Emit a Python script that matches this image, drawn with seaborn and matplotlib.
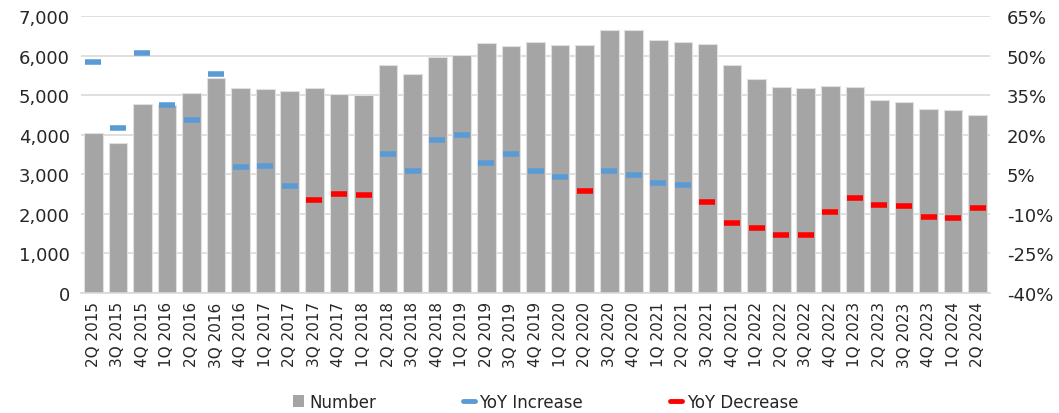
import numpy as np
import pandas as pd
import matplotlib
matplotlib.use("Agg")
import matplotlib.pyplot as plt
from matplotlib.lines import Line2D
from matplotlib.patches import Patch
from matplotlib.ticker import FuncFormatter, MultipleLocator
import seaborn as sns

quarters = ["2Q 2015", "3Q 2015", "4Q 2015", "1Q 2016", "2Q 2016", "3Q 2016", "4Q 2016",
            "1Q 2017", "2Q 2017", "3Q 2017", "4Q 2017", "1Q 2018", "2Q 2018", "3Q 2018",
            "4Q 2018", "1Q 2019", "2Q 2019", "3Q 2019", "4Q 2019", "1Q 2020", "2Q 2020",
            "3Q 2020", "4Q 2020", "1Q 2021", "2Q 2021", "3Q 2021", "4Q 2021", "1Q 2022",
            "2Q 2022", "3Q 2022", "4Q 2022", "1Q 2023", "2Q 2023", "3Q 2023", "4Q 2023",
            "1Q 2024", "2Q 2024"]
number = [4040, 3790, 4776, 4750, 5062, 5441, 5173, 5155, 5113, 5180, 5037, 5011, 5762,
          5527, 5956, 6015, 6318, 6250, 6335, 6268, 6268, 6646, 6638, 6386, 6343, 6293,
          5754, 5408, 5206, 5181, 5231, 5206, 4877, 4819, 4650, 4625, 4498]
yoy_pct = [47.7, 22.4, 50.9, 31.3, 25.5, 43.0, 7.9, 8.0, 0.6, -4.9, -2.6, -3.0, 12.7,
           6.4, 17.9, 19.8, 9.4, 12.8, 6.1, 4.0, -1.2, 6.2, 4.7, 1.8, 1.1, -5.6,
           -13.5, -15.5, -18.0, -17.9, -9.3, -4.0, -6.6, -7.1, -11.3, -11.5, -7.9]
pct_ticks = [-40, -25, -10, 5, 20, 35, 50, 65]

GRAY = "#A5A5A5"
BLUE = "#5B9BD5"
RED = "#FF0000"
GRID = "#D9D9D9"
TEXT = "#262626"

sns.set_theme(style="white")
plt.rcParams["font.family"] = ["DejaVu Sans"]

df = pd.DataFrame({"quarter": quarters, "number": number, "yoy": yoy_pct})
df["inc"] = df["yoy"].where(df["yoy"] >= 0)
df["dec"] = df["yoy"].where(df["yoy"] < 0)

fig = plt.figure(figsize=(10.59, 4.14), dpi=100)
ax = fig.add_axes([81 / 1059, 1 - 294 / 414, (990 - 81) / 1059, (294 - 17) / 414])

sns.barplot(data=df, x="quarter", y="number", order=quarters, color=GRAY,
            saturation=1, width=0.76, edgecolor="#E0E0E0", linewidth=0.8, ax=ax, zorder=2)
ax.set_ylim(0, 7000)
ax.yaxis.set_major_locator(MultipleLocator(1000))
ax.yaxis.set_major_formatter(FuncFormatter(lambda v, p: f"{int(v):,}"))
ax.grid(axis="y", color=GRID, linewidth=1.2, zorder=0)
ax.set_axisbelow(True)
ax.set_xlabel("")
ax.set_ylabel("")
for s in ["top", "right", "left"]:
    ax.spines[s].set_visible(False)
ax.spines["bottom"].set_color(GRID)
ax.spines["bottom"].set_linewidth(1.2)
ax.tick_params(axis="y", length=0, labelsize=13, colors=TEXT, pad=8)
ax.tick_params(axis="x", length=0, labelsize=11, colors=TEXT, rotation=90, pad=6)
ax.set_xlim(-0.5, len(quarters) - 0.5)

ax2 = ax.twinx()
sns.pointplot(data=df, x="quarter", y="inc", order=quarters, color=BLUE, markers="_",
              linestyles="none", errorbar=None, markersize=12, markeredgewidth=4, ax=ax2)
sns.pointplot(data=df, x="quarter", y="dec", order=quarters, color=RED, markers="_",
              linestyles="none", errorbar=None, markersize=12, markeredgewidth=4, ax=ax2)
ax2.set_ylim(-40, 65)
ax2.set_yticks(pct_ticks)
ax2.yaxis.set_major_formatter(FuncFormatter(lambda v, p: f"{int(round(v))}%"))
ax2.set_xlim(-0.5, len(quarters) - 0.5)
ax2.set_xlabel("")
ax2.set_ylabel("")
for s in ["top", "right", "left", "bottom"]:
    ax2.spines[s].set_visible(False)
ax2.tick_params(axis="y", length=0, labelsize=13, colors=TEXT, pad=12)
ax2.grid(False)

handles = [Patch(facecolor=GRAY, edgecolor="none"),
           Line2D([0], [0], color=BLUE, linewidth=3.5),
           Line2D([0], [0], color=RED, linewidth=3.5)]
labels = ["Number", "YoY Increase", "YoY Decrease"]
fig.legend(handles, labels, loc="center", bbox_to_anchor=(0.515, 1 - 403 / 414), ncol=3,
           frameon=False, fontsize=12, columnspacing=5.2, handlelength=0.7,
           handleheight=0.7, handletextpad=0.3, labelcolor=TEXT)

fig.savefig("out.png", dpi=100)
